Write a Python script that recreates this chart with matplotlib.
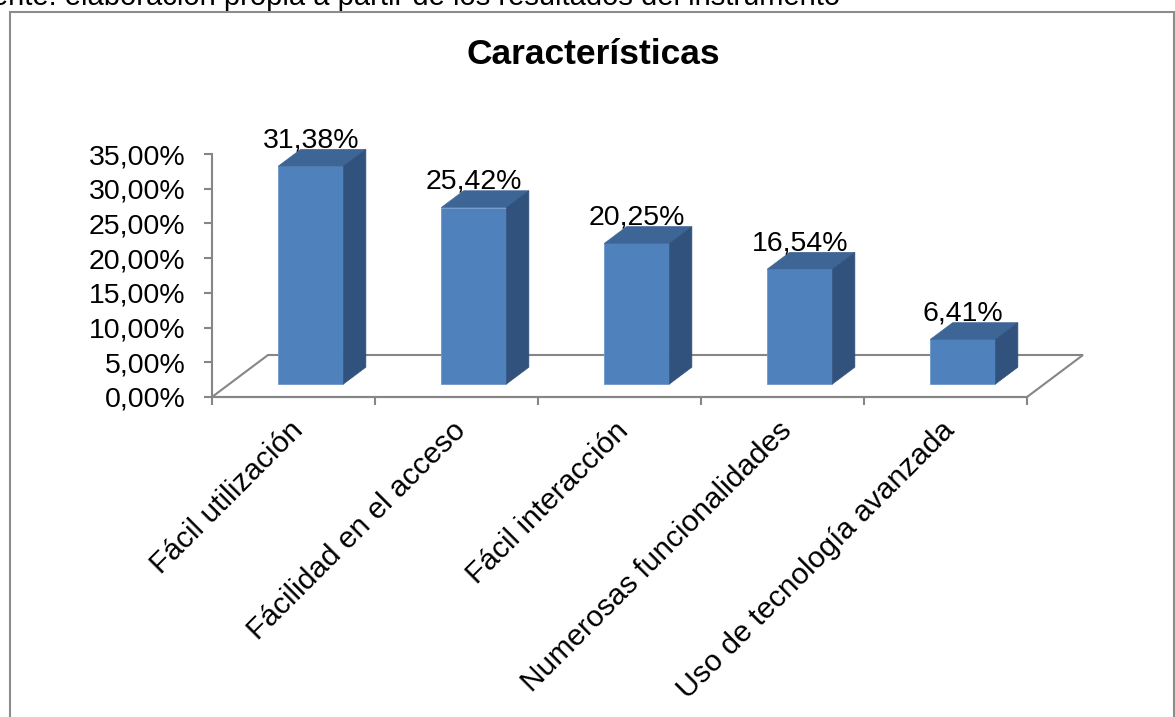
import matplotlib
matplotlib.use('Agg')
import matplotlib.pyplot as plt
from matplotlib.patches import Polygon, Rectangle
from matplotlib.transforms import ScaledTranslation

plt.rcParams['font.family'] = ['Liberation Sans', 'DejaVu Sans']

# datos
categorias = ['Fácil utilización', 'Fácilidad en el acceso', 'Fácil interacción',
              'Numerosas funcionalidades', 'Uso de tecnología avanzada']
valores = [31.38, 25.42, 20.25, 16.54, 6.41]
yticks = [0, 5, 10, 15, 20, 25, 30, 35]
titulo = 'Características'
fuente = 'Fuente: elaboración propia a partir de los resultados del instrumento'

# colores de las caras de la barra
c_frente = '#4F81BD'
c_arriba = '#3D6696'
c_lado = '#31527C'
c_eje = '#868686'

W, H = 1175, 717
fig = plt.figure(figsize=(W / 100, H / 100), dpi=100)
fig.patch.set_facecolor('white')

# profundidad del "3D": desplazamiento en unidades de datos
ddx = 56 / 163.0
ddy = 42 / 6.94
d0, d1 = 0.31, 0.71
n = len(categorias)

ax = fig.add_axes([212 / W, 1 - 397 / H, 871 / W, 40 * 6.94 / H])
ax.set_xlim(0, n + ddx)
ax.set_ylim(0, 40)
ax.patch.set_visible(False)
for s in ['top', 'right']:
    ax.spines[s].set_visible(False)
ax.spines['left'].set_bounds(0, 35)
ax.spines['bottom'].set_bounds(0, n)
for s in ['left', 'bottom']:
    ax.spines[s].set_color(c_eje)
    ax.spines[s].set_linewidth(1.5)

# piso
piso = Polygon([(0, 0), (n, 0), (n + ddx, ddy), (ddx, ddy)], closed=True,
               fill=False, edgecolor=c_eje, lw=1.5, zorder=1, clip_on=False)
ax.add_patch(piso)

# barras
for i, v in enumerate(valores):
    xl = i + 0.3 + d0 * ddx
    xr = i + 0.7 + d0 * ddx
    yb = d0 * ddy
    yt = yb + v
    px = (d1 - d0) * ddx
    py = (d1 - d0) * ddy
    ax.add_patch(Rectangle((xl, yb), xr - xl, v, facecolor=c_frente,
                           edgecolor='#6f97c9', lw=0.6, zorder=3))
    ax.add_patch(Polygon([(xl, yt), (xr, yt), (xr + px, yt + py), (xl + px, yt + py)],
                         closed=True, facecolor=c_arriba, edgecolor=c_arriba, lw=0.5, zorder=3))
    ax.add_patch(Polygon([(xr, yb), (xr + px, yb + py), (xr + px, yt + py), (xr, yt)],
                         closed=True, facecolor=c_lado, edgecolor=c_lado, lw=0.5, zorder=3))
    etiqueta = ('%.2f%%' % v).replace('.', ',')
    ax.annotate(etiqueta, xy=((xl + xr) / 2, yt + py), xytext=(0, 1.5),
                textcoords='offset points', ha='center', va='baseline',
                fontsize=20.5, color='black', zorder=4, annotation_clip=False)

# eje y
ax.set_yticks(yticks)
ax.set_yticklabels([('%.2f%%' % t).replace('.', ',') for t in yticks])
ax.tick_params(axis='y', direction='out', length=6, width=1.5, color=c_eje,
               labelsize=20.5, pad=13)

# eje x: marcas entre categorias, etiquetas en el centro
ax.set_xticks(range(n + 1))
ax.set_xticklabels([])
ax.set_xticks([i + 0.5 for i in range(n)], minor=True)
ax.set_xticklabels(categorias, minor=True, rotation=45, ha='right',
                   rotation_mode='anchor', va='top')
ax.tick_params(axis='x', which='major', direction='out', length=6, width=1.5,
               color=c_eje)
ax.tick_params(axis='x', which='minor', length=0, labelsize=21.5, pad=14)
desplaza = ScaledTranslation(-5 / 100, 0, fig.dpi_scale_trans)
for lab in ax.get_xticklabels(minor=True):
    lab.set_transform(lab.get_transform() + desplaza)

# titulo
fig.text(593 / W, 1 - 64 / H, titulo, ha='center', va='baseline',
         fontsize=25.5, fontweight='bold')

# texto de fuente cortado arriba
fig.text(840 / W, 1 - 5 / H, fuente, ha='right', va='baseline', fontsize=21)

# marco
marco = Rectangle((9.5 / W, -0.02), (1173.5 - 9.5) / W, 1.02 - 11.5 / H,
                  transform=fig.transFigure, fill=False, edgecolor='#8c8c8c', lw=1.5)
fig.patches.append(marco)

fig.savefig('out.png', dpi=100)
